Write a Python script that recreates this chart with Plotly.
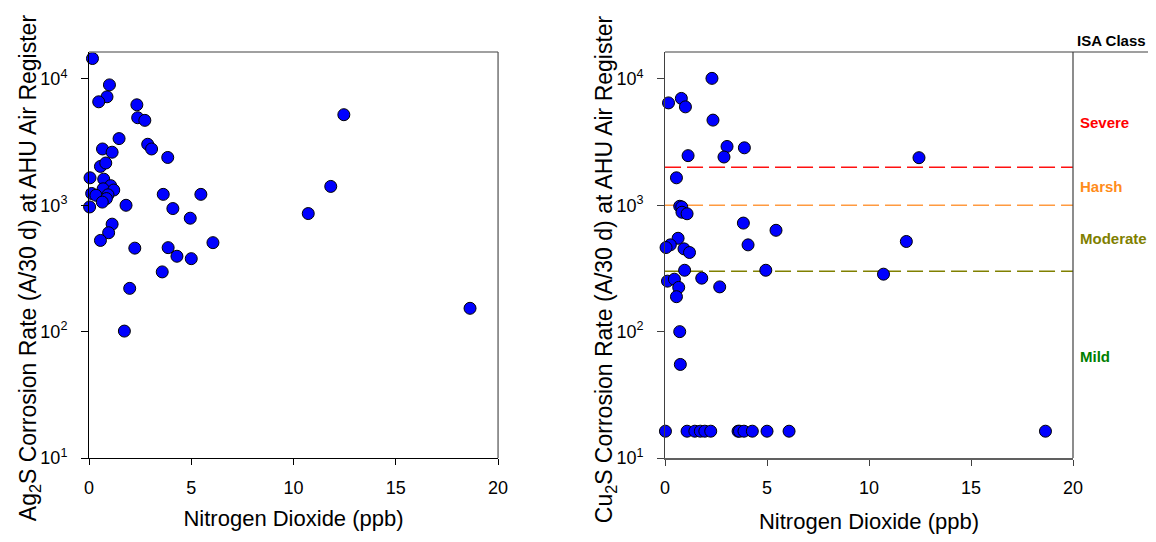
import plotly.graph_objects as go

# ---- data ----
ag_no2 = [0.17, 1.0, 0.88, 0.475, 2.34, 2.38, 2.73, 1.47, 2.87, 3.06, 0.66, 1.13, 3.85,
          0.56, 0.82, 0.05, 0.72, 1.06, 0.69, 1.21, 0.13, 0.34, 0.93, 3.63, 5.47, 0.85,
          0.65, 0.03, 1.81, 4.1, 4.95, 1.13, 0.96, 0.56, 6.06, 2.24, 3.87, 4.30, 5.0,
          3.58, 1.99, 1.73, 12.46, 11.82, 10.72, 18.63]
ag_rate = [14500, 8970, 7220, 6590, 6240, 4930, 4700, 3370, 3040, 2790, 2790, 2630, 2390,
           2030, 2160, 1650, 1610, 1430, 1350, 1320, 1240, 1200, 1210, 1220, 1220, 1130,
           1060, 970, 1000, 942, 790, 709, 606, 527, 506, 458, 462, 395, 378,
           297, 220, 101, 5210, 1410, 860, 153]

cu_no2 = [2.30, 0.17, 0.80, 1.0, 2.35, 3.04, 3.89, 2.89, 1.13, 12.45, 11.83, 10.71, 18.65,
          0.56, 0.72, 0.82, 0.83, 1.08, 3.84, 5.44, 0.64, 4.07, 0.26, 0.05, 0.93, 1.2,
          0.96, 4.94, 0.12, 0.46, 1.8, 0.67, 2.68, 0.56, 0.72, 0.75,
          0.02, 1.08, 1.46, 1.73, 1.95, 2.24, 3.58, 3.65, 3.87, 4.28, 5.0, 6.08]
cu_rate = [10100, 6460, 7010, 6010, 4720, 2920, 2850, 2410, 2470, 2380, 517, 285, 16.3,
           1650, 982, 970, 881, 857, 723, 634, 548, 486, 486, 463, 452, 423,
           306, 306, 251, 260, 265, 224, 226, 189, 100, 55,
           16.3, 16.3, 16.3, 16.3, 16.3, 16.3, 16.3, 16.3, 16.3, 16.3, 16.3, 16.3]

isa_names = ["Severe", "Harsh", "Moderate"]
isa_levels = [2000, 1000, 300]
isa_line_colors = ["#FF1010", "#FF9A40", "#808000"]

isa_label_names = ["Severe", "Harsh", "Moderate", "Mild"]
isa_label_colors = ["#FF0000", "#FF8C1A", "#808000", "#008000"]
isa_label_pos = [3.658, 3.149, 2.737, 1.804]  # log10 positions of labels

x_ticks = [0, 5, 10, 15, 20]
y_ticks = [10, 100, 1000, 10000]
y_ticktext = ["10<sup>1</sup>", "10<sup>2</sup>", "10<sup>3</sup>", "10<sup>4</sup>"]

x_title = "Nitrogen Dioxide (ppb)"
y_title_left = "Ag<sub>2</sub>S Corrosion Rate (A/30 d) at AHU Air Register"
y_title_right = "Cu<sub>2</sub>S Corrosion Rate (A/30 d) at AHU Air Register"

FONT = "Arial, Liberation Sans, sans-serif"

fig = go.Figure()

marker = dict(size=12, color="#0000FF", line=dict(color="black", width=1))

# ISA class lines (right panel)
for name, lvl, col in zip(isa_names, isa_levels, isa_line_colors):
    fig.add_trace(go.Scatter(x=[0, 20], y=[lvl, lvl], mode="lines", xaxis="x2", yaxis="y2",
                             line=dict(color=col, width=1.5, dash="16px,6px"),
                             showlegend=False, hoverinfo="skip"))

fig.add_trace(go.Scatter(x=ag_no2, y=ag_rate, mode="markers", marker=marker,
                         cliponaxis=False, showlegend=False))
fig.add_trace(go.Scatter(x=cu_no2, y=cu_rate, mode="markers", marker=marker,
                         xaxis="x2", yaxis="y2", cliponaxis=False, showlegend=False))

yrange = [1, 4.213]
common_x = dict(range=[0, 20], tickvals=x_ticks, ticks="outside", ticklen=6,
                ticklabelstandoff=7,
                showline=True, showgrid=False, zeroline=False,
                tickfont=dict(family=FONT, size=18, color="black"))
common_y = dict(type="log", range=yrange, tickvals=y_ticks, ticktext=y_ticktext,
                ticks="outside", ticklen=7, ticklabelstandoff=10,
                showline=True, showgrid=False, zeroline=False,
                tickfont=dict(family=FONT, size=18, color="black"))

xtitle_font = dict(family=FONT, size=22, color="black")
ytitle_font = dict(family=FONT, size=23, color="black")

fig.update_layout(
    width=1148, height=534,
    margin=dict(l=81, r=83, t=44, b=81),
    plot_bgcolor="white", paper_bgcolor="white",
    xaxis=dict(domain=[0, 0.4157], anchor="y", linecolor="black", tickcolor="black",
               title=dict(text=x_title, font=xtitle_font, standoff=14),
               **common_x),
    yaxis=dict(domain=[0, 1], anchor="x", linecolor="black", tickcolor="black",
               **common_y),
    xaxis2=dict(domain=[0.5854, 1], anchor="y2", linecolor="#606060", linewidth=1.5,
                tickcolor="#404040",
                title=dict(text=x_title, font=xtitle_font, standoff=16),
                **common_x),
    yaxis2=dict(domain=[0, 1], anchor="x2", linecolor="#404040", tickcolor="#404040",
                **common_y),
)

# frame lines (top / right)
shapes = [
    dict(type="line", xref="x domain", yref="y domain", x0=0, x1=1, y0=1, y1=1,
         line=dict(color="#808080", width=1.5)),
    dict(type="line", xref="x domain", yref="y domain", x0=1, x1=1, y0=0, y1=1,
         line=dict(color="#505050", width=1.2)),
    dict(type="line", xref="paper", yref="paper", x0=0.5854, x1=1.0803, y0=1, y1=1,
         line=dict(color="#404040", width=1.2)),
    dict(type="line", xref="x2 domain", yref="y2 domain", x0=1, x1=1, y0=0, y1=1,
         line=dict(color="#404040", width=1.2)),
]
fig.update_layout(shapes=shapes)

ann = [
    dict(text=y_title_left, xref="paper", yref="paper", x=-0.061, y=0.47,
         xanchor="center", yanchor="middle", textangle=-90, showarrow=False,
         font=ytitle_font),
    dict(text=y_title_right, xref="paper", yref="paper", x=0.5244, y=0.465,
         xanchor="center", yanchor="middle", textangle=-90, showarrow=False,
         font=ytitle_font),
    dict(text="<b>ISA Class</b>", xref="paper", yref="paper", x=1.0025, y=1.003,
         xanchor="left", yanchor="bottom", showarrow=False,
         font=dict(family=FONT, size=15, color="black")),
]
for name, col, pos in zip(isa_label_names, isa_label_colors, isa_label_pos):
    ann.append(dict(text="<b>%s</b>" % name, xref="paper", yref="y2", x=1.0055, y=pos,
                    xanchor="left", yanchor="middle", showarrow=False,
                    font=dict(family=FONT, size=15, color=col)))
fig.update_layout(annotations=ann)

fig.write_html("out.html")
